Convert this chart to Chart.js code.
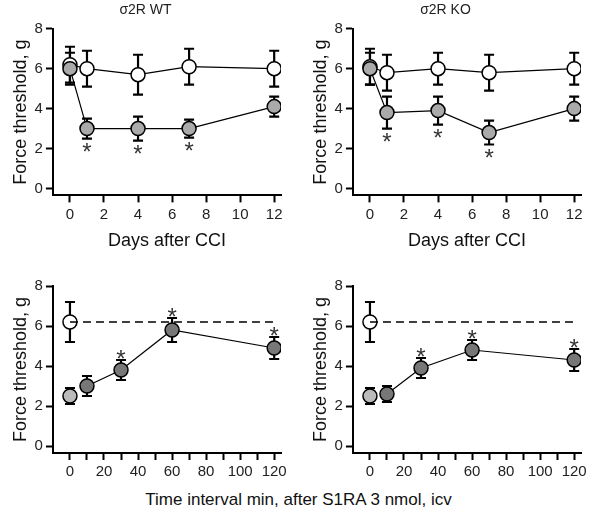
<!DOCTYPE html>
<html lang="en">
<head>
<meta charset="UTF-8" />
<title>Force threshold</title>
<style>
  body { margin: 0; background: #fff; width: 597px; height: 519px; position: relative; font-family: Arial, "Liberation Sans", sans-serif; }
  canvas { position: absolute; }
  #caption { position: absolute; left: 0; width: 597px; top: 490px; text-align: center; font-size: 17px; color: #111; }
</style>
</head>
<body>
<canvas id="c1" style="left:0;top:0"></canvas>
<canvas id="c2" style="left:300px;top:0"></canvas>
<canvas id="c3" style="left:0;top:262px"></canvas>
<canvas id="c4" style="left:300px;top:262px"></canvas>
<div id="caption">Time interval min, after S1RA 3 nmol, icv</div>
<script src="https://cdn.jsdelivr.net/npm/chart.js@4"></script>
<script>
// top panels: days after CCI
const days = [0, 1, 4, 7, 12];
const wtShamTop = [6.2, 6.0, 5.7, 6.1, 6.0];
const wtShamTopErr = [0.9, 0.9, 1.0, 0.9, 0.9];
const wtCciTop = [6.0, 3.0, 3.0, 3.0, 4.1];
const wtCciTopErr = [0.8, 0.5, 0.6, 0.45, 0.5];
const wtTopStars = [null, 'below', 'below', 'below', null];
const koShamTop = [6.1, 5.8, 6.0, 5.8, 6.0];
const koShamTopErr = [0.9, 0.9, 0.8, 0.9, 0.8];
const koCciTop = [6.0, 3.8, 3.9, 2.8, 4.0];
const koCciTopErr = [0.8, 0.8, 0.7, 0.6, 0.6];
const koTopStars = [null, 'below', 'below', 'below', null];

// bottom panels: minutes after S1RA
const minutes = [0, 10, 30, 60, 120];
const wtBase = 6.2, wtBaseErr = 1.0;
const wtDrug = [2.5, 3.0, 3.8, 5.8, 4.9];
const wtDrugErr = [0.4, 0.5, 0.5, 0.6, 0.55];
const koBase = 6.2, koBaseErr = 1.0;
const koDrug = [2.5, 2.6, 3.9, 4.8, 4.3];
const koDrugErr = [0.4, 0.4, 0.5, 0.5, 0.55];
const bottomStars = [null, null, 'above', 'above', 'above'];

const FONT = 'Arial, "Liberation Sans", sans-serif';

const errorBars = {
  id: 'errorBars',
  beforeDatasetsDraw(chart) {
    const ctx = chart.ctx, ys = chart.scales.y;
    chart.data.datasets.forEach((ds, i) => {
      if (!ds.errors) return;
      const meta = chart.getDatasetMeta(i);
      meta.data.forEach((pt, j) => {
        const e = ds.errors[j]; if (!e) return;
        const v = ds.data[j].y;
        const t = ys.getPixelForValue(v + e), b = ys.getPixelForValue(v - e);
        ctx.save(); ctx.strokeStyle = '#000'; ctx.lineWidth = 2.2;
        ctx.beginPath();
        ctx.moveTo(pt.x, t); ctx.lineTo(pt.x, b);
        ctx.moveTo(pt.x - 5, t); ctx.lineTo(pt.x + 5, t);
        ctx.moveTo(pt.x - 5, b); ctx.lineTo(pt.x + 5, b);
        ctx.stroke(); ctx.restore();
      });
    });
  },
  afterDatasetsDraw(chart) {
    const ctx = chart.ctx, ys = chart.scales.y;
    chart.data.datasets.forEach((ds, i) => {
      if (!ds.stars) return;
      const meta = chart.getDatasetMeta(i);
      meta.data.forEach((pt, j) => {
        const s = ds.stars[j]; if (!s) return;
        const v = ds.data[j].y, e = ds.errors[j];
        ctx.save(); ctx.fillStyle = '#333'; ctx.font = '24px ' + FONT; ctx.textAlign = 'center';
        if (s === 'below') { ctx.textBaseline = 'top'; ctx.fillText('*', pt.x, ys.getPixelForValue(v - e) + 3); }
        else { ctx.textBaseline = 'bottom'; ctx.fillText('*', pt.x, ys.getPixelForValue(v + e) + 12); }
        ctx.restore();
      });
    });
  }
};

function pts(xs, ys) { return xs.map((x, i) => ({ x: x, y: ys[i] })); }

function panel(id, w, h, padTop, title, xTitle, xmin, xmax, xstep, xlabelStep, datasets) {
  const el = document.getElementById(id);
  el.width = w; el.height = h;
  new Chart(el, {
    type: 'scatter',
    data: { datasets: datasets },
    plugins: [errorBars],
    options: {
      responsive: false, animation: false,
      layout: { padding: { left: 10, right: 16, top: padTop, bottom: 0 } },
      plugins: {
        legend: { display: false }, tooltip: { enabled: false },
        title: { display: !!title, text: title, color: '#222', font: { family: FONT, size: 14, weight: 'normal' }, padding: { top: 0, bottom: 10 } }
      },
      scales: {
        x: {
          type: 'linear', min: xmin, max: xmax,
          afterBuildTicks(ax) { const t = []; for (let v = 0; v <= xmax; v += xstep) t.push({ value: v }); ax.ticks = t; },
          ticks: { color: '#222', font: { family: FONT, size: 15 }, maxRotation: 0, autoSkip: false,
                   callback: v => (v % xlabelStep === 0 ? v : '') },
          grid: { drawOnChartArea: false, tickLength: 7, color: '#000', tickWidth: 2 },
          border: { color: '#000', width: 2 },
          title: { display: !!xTitle, text: xTitle, color: '#111', font: { family: FONT, size: 18 }, padding: { top: 4 } }
        },
        y: {
          min: -0.35, max: 8,
          afterBuildTicks(ax) { const t = []; for (let v = 0; v <= 8; v += 1) t.push({ value: v }); ax.ticks = t; },
          ticks: { color: '#222', font: { family: FONT, size: 15 }, callback: v => (v % 2 === 0 ? v : '') },
          grid: { drawOnChartArea: false, tickLength: 7, color: '#000', tickWidth: 2 },
          border: { color: '#000', width: 2 },
          title: { display: true, text: 'Force threshold, g', color: '#111', font: { family: FONT, size: 18 }, padding: 0 }
        }
      }
    }
  });
}

function pointStyle(fill, extra) {
  return Object.assign({ pointRadius: 7, pointBackgroundColor: fill, pointBorderColor: '#000', pointBorderWidth: 1.5,
    borderColor: '#000', borderWidth: 1.2, showLine: true }, extra || {});
}

panel('c1', 297, 256, 2, 'σ2R WT', 'Days after CCI', -1, 12.4, 2, 2, [
  pointStyle('#aaa', { data: pts(days, wtCciTop), errors: wtCciTopErr, stars: wtTopStars }),
  pointStyle('#fff', { data: pts(days, wtShamTop), errors: wtShamTopErr })
]);
panel('c2', 297, 256, 2, 'σ2R KO', 'Days after CCI', -1, 12.4, 2, 2, [
  pointStyle('#aaa', { data: pts(days, koCciTop), errors: koCciTopErr, stars: koTopStars }),
  pointStyle('#fff', { data: pts(days, koShamTop), errors: koShamTopErr })
]);

function bottomSets(base, baseErr, drug, drugErr) {
  return [
    { data: [{ x: 0, y: base }, { x: 120, y: base }], showLine: true, pointRadius: 0, borderColor: '#000', borderWidth: 1.3, borderDash: [8, 5] },
    pointStyle('#777', { data: pts(minutes.slice(1), drug.slice(1)), errors: drugErr.slice(1), stars: bottomStars.slice(1) }),
    pointStyle('#bbb', { data: pts([minutes[0]], [drug[0]]), errors: [drugErr[0]], showLine: false }),
    pointStyle('#fff', { data: [{ x: 0, y: base }], errors: [baseErr], showLine: false })
  ];
}
panel('c3', 297, 222, 24, '', '', -10, 124, 10, 20, bottomSets(wtBase, wtBaseErr, wtDrug, wtDrugErr));
panel('c4', 297, 222, 24, '', '', -10, 124, 10, 20, bottomSets(koBase, koBaseErr, koDrug, koDrugErr));
</script>
</body>
</html>
